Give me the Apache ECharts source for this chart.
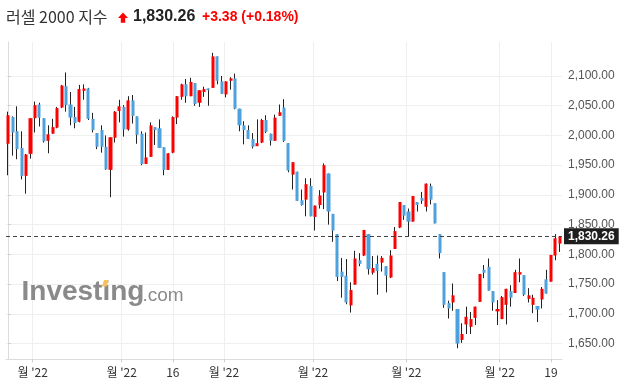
<!DOCTYPE html>
<html><head><meta charset="utf-8">
<script src="https://cdn.jsdelivr.net/npm/echarts@6/dist/echarts.min.js"></script>
<style>html,body{margin:0;padding:0;background:#fff}#c{width:623px;height:391px}</style>
</head><body><div id="c"></div>
<script>
const titleName = '러셀 2000 지수';
const lastPrice = 1830.26;
const changeAbs = 3.38;
const changePct = 0.18;

const opens = [1986,2031,2007,1979,1932,1969,2029,2052,2029,1991,
2003,2013,2047,2083,2052,2031,2023,2075,2079,2028,
2004,2009,1981,1942,1996,2041,2048,2010,2059,2032,
2003,1952,1964,2014,2012,1980,1942,1971,2030,2065,
2086,2066,2088,2055,2073,2079,2080,2133,2091,2069,
2092,2096,2045,2017,2009,1994,1982,1988,2026,2003,
1991,2033,2047,1987,1934,1939,1891,1892,1915,1863,
1883,1904,1936,1868,1834,1771,1764,1714,1749,1790,
1798,1834,1769,1784,1786,1780,1761,1809,1845,1883,
1872,1855,1888,1895,1880,1915,1886,1834,1770,1718,
1719,1708,1656,1682,1678,1693,1720,1774,1779,1738,
1704,1691,1715,1738,1735,1766,1765,1725,1715,1713,
1724,1758,1754,1798,1818];
const closes = [2034,2005,1977,1932,1968,2029,2051,2030,1990,2002,
2014,2046,2084,2051,2030,2021,2078,2079,2028,2009,
1981,1981,1943,1997,2040,2049,2010,2059,2033,2001,
1952,1963,2017,2009,1979,1942,1970,2031,2066,2086,
2066,2090,2053,2076,2078,2076,2133,2092,2070,2091,
2096,2045,2017,2009,1994,1981,1987,2026,2006,1991,
2030,2039,1991,1941,1955,1890,1883,1918,1864,1882,
1899,1950,1872,1840,1762,1762,1719,1740,1793,1784,
1841,1775,1777,1772,1794,1764,1798,1839,1888,1865,
1855,1898,1883,1890,1919,1892,1852,1802,1715,1709,
1731,1650,1666,1695,1691,1712,1767,1769,1739,1719,
1708,1728,1742,1727,1770,1770,1732,1731,1727,1707,
1742,1734,1799,1827,1830.26];
const lows = [1933,1966,1960,1926,1902,1961,2005,2015,1988,1970,
2003,2012,2046,2040,2017,2012,2022,2060,2026,2005,
1977,1971,1942,1896,1988,2022,1998,2008,2020,1986,
1950,1952,1964,1984,1979,1933,1942,1970,2019,2060,
2055,2066,2050,2048,2065,2050,2080,2086,2070,2064,
2077,2044,2007,1985,1994,1978,1982,1987,2004,1983,
1991,2033,1989,1938,1909,1890,1882,1864,1864,1840,
1877,1876,1850,1821,1755,1727,1716,1702,1749,1780,
1797,1766,1766,1732,1771,1736,1760,1809,1844,1858,
1830,1855,1872,1885,1872,1884,1852,1793,1710,1692,
1705,1642,1651,1666,1666,1681,1720,1760,1739,1705,
1681,1691,1682,1712,1735,1753,1730,1719,1701,1686,
1709,1734,1754,1790,1804];
const highs = [2040,2032,2049,2007,1969,2029,2057,2055,2029,2017,
2028,2048,2085,2106,2073,2048,2085,2086,2080,2038,
2004,2017,2000,1997,2041,2060,2051,2066,2068,2032,
2007,2005,2022,2014,2027,1980,1970,2032,2066,2087,
2095,2097,2088,2076,2082,2079,2139,2133,2100,2091,
2098,2104,2045,2024,2017,2004,2027,2028,2034,2003,
2035,2052,2061,1987,1955,1939,1909,1928,1928,1882,
1908,1953,1936,1868,1834,1794,1792,1753,1806,1802,
1841,1834,1797,1798,1797,1780,1807,1846,1888,1883,
1877,1898,1888,1905,1919,1919,1886,1834,1770,1722,
1751,1708,1684,1712,1703,1712,1767,1782,1793,1738,
1723,1730,1742,1748,1774,1793,1765,1743,1732,1713,
1745,1774,1799,1834,1830.26];

const yTickValues = [1650,1700,1750,1800,1850,1900,1950,2000,2050,2100];
const xTickPositions = [5.5,25.5,37,48.5,68.5,89.5,110.5,122];
const xTickLabels = ["월 '22","월 '22","16","월 '22","월 '22","월 '22","월 '22","19"];

const fmt2 = v => Number(v).toLocaleString('en-US',{minimumFractionDigits:2,maximumFractionDigits:2});
const categories = opens.map((_, i) => String(i));
const wickData = opens.map((o, i) => [o, closes[i], lows[i], highs[i]]);
const bodyData = opens.map((o, i) => [o, closes[i], Math.min(o, closes[i]), Math.max(o, closes[i])]);

const UP = '#ff0000', DOWN = '#4da1dc', WICK = '#222222';
const chart = echarts.init(document.getElementById('c'), null, {renderer: 'canvas'});
chart.setOption({
  animation: false,
  backgroundColor: '#ffffff',
  textStyle: {fontFamily: '"Liberation Sans", Arial, sans-serif'},
  grid: {left: 6, right: 61, top: 42, bottom: 31.7, containLabel: false},
  xAxis: [{
    type: 'category', data: categories, boundaryGap: true,
    axisLine: {show: true, lineStyle: {color: '#dcdcdc'}},
    axisTick: {show: false}, axisLabel: {show: false}, splitLine: {show: false}
  }, {
    type: 'value', position: 'bottom', min: -0.5, max: categories.length - 0.5,
    axisLine: {show: false},
    axisTick: {show: true, length: 3, customValues: xTickPositions, lineStyle: {color: '#cfcfcf'}},
    axisLabel: {show: true, customValues: xTickPositions, margin: 7, color: '#333', fontSize: 12,
      fontFamily: '"Noto Sans CJK KR", "Liberation Sans", sans-serif',
      formatter: v => { const k = xTickPositions.findIndex(p => Math.abs(p - v) < 1e-6); return k >= 0 ? xTickLabels[k] : ''; }},
    splitLine: {show: true, lineStyle: {color: '#efefef', width: 1}}
  }],
  yAxis: {
    type: 'value', position: 'right', min: 1623.4, max: 2157.2, scale: true,
    axisLine: {show: true, lineStyle: {color: '#dcdcdc'}},
    axisTick: {show: true, length: 3, customValues: yTickValues, lineStyle: {color: '#cfcfcf'}},
    axisLabel: {customValues: yTickValues, margin: 6, color: '#555', fontSize: 12, formatter: v => fmt2(v)},
    splitLine: {show: true, lineStyle: {color: '#efefef', width: 1}}
  },
  graphic: [
    {type: 'text', z: 10, style: {text: titleName, x: 6, y: 17, fill: '#333', font: '16px "Noto Sans CJK KR", sans-serif', textVerticalAlign: 'middle'}},
    {type: 'polygon', z: 10, shape: {points: [[123,12.5],[128,18],[125.2,18],[125.2,22.7],[120.8,22.7],[120.8,18],[118,18]]}, style: {fill: UP}},
    {type: 'text', z: 10, style: {text: fmt2(lastPrice), x: 133, y: 17, fill: '#222', font: 'bold 16px "Liberation Sans", Arial, sans-serif', textVerticalAlign: 'middle'}},
    {type: 'text', z: 10, style: {text: '+' + changeAbs.toFixed(2) + ' (+' + changePct.toFixed(2) + '%)', x: 202, y: 17, fill: UP, font: 'bold 14px "Liberation Sans", Arial, sans-serif', textVerticalAlign: 'middle'}},
    {type: 'text', z: 1, style: {text: 'Investing', x: 21.5, y: 292, fill: '#8a8a8a', font: 'bold 28px "Liberation Sans", Arial, sans-serif', textVerticalAlign: 'middle'}},
    {type: 'text', z: 1, style: {text: '.com', x: 142.5, y: 295.5, fill: '#8a8a8a', font: '19px "Liberation Sans", Arial, sans-serif', textVerticalAlign: 'middle'}},
    {type: 'polygon', z: 2, shape: {points: [[102,286.5],[104,280],[108.5,280],[106.5,286.5]]}, style: {fill: '#f7c063'}}
  ],
  series: [{
    type: 'candlestick', name: 'wick', xAxisIndex: 0, data: wickData, barWidth: 0.4,
    itemStyle: {color: WICK, color0: WICK, borderColor: WICK, borderColor0: WICK, borderWidth: 1}
  }, {
    type: 'candlestick', name: 'body', xAxisIndex: 0, data: bodyData, barWidth: 3.6,
    itemStyle: {color: UP, color0: DOWN, borderColor: UP, borderColor0: DOWN, borderWidth: 0},
    markLine: {
      silent: true, symbol: ['none','none'], z: 20,
      lineStyle: {color: '#444', type: [4,3], width: 1},
      label: {show: true, position: 'end', distance: 2, formatter: () => fmt2(lastPrice),
        backgroundColor: '#1e1e1e', color: '#fff', fontWeight: 'bold', fontSize: 12, padding: [2,4,2,4]},
      data: [{yAxis: lastPrice}]
    }
  }]
});
</script></body></html>
